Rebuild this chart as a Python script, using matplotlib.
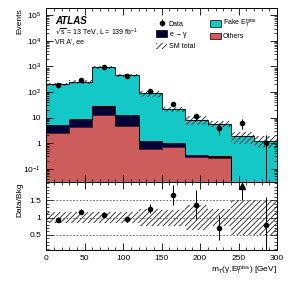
import numpy as np
import matplotlib
matplotlib.use("Agg")
import matplotlib.pyplot as plt
from matplotlib.ticker import FixedLocator, MultipleLocator, LogLocator, FuncFormatter, NullFormatter
from matplotlib.patches import Patch

plt.rcParams['font.family'] = ['Liberation Sans', 'DejaVu Sans']
plt.rcParams['mathtext.default'] = 'regular'
plt.rcParams['hatch.linewidth'] = 0.6

# ---- data ----
bin_edges = [0, 30, 60, 90, 120, 150, 180, 210, 240, 270, 300]
sm_total = [200, 245, 910, 447, 87, 20.6, 8.0, 5.6, 1.82, 1.25]
others = [2.5, 4.1, 12.9, 4.8, 0.60, 0.73, 0.28, 0.26, 0.0, 0.0]
egamma = [2.7, 4.6, 16.0, 8.1, 0.66, 0.32, 0.07, 0.04, 0.0, 0.0]
data = [188, 287, 970, 425, 110, 34, 11, 4, 6, 1]
rel_unc = [0.15, 0.15, 0.15, 0.15, 0.24, 0.23, 0.37, 0.25, 0.5, 0.5]

edges = np.array(bin_edges, float)
centers = 0.5 * (edges[1:] + edges[:-1])
sm = np.array(sm_total)
oth = np.array(others)
eg = np.array(egamma)
fake = sm - oth - eg
dat = np.array(data, float)
unc = np.array(rel_unc)

c_fake = '#14c8c8'
c_eg = '#000033'
c_oth = '#cd5c5c'
c_hatch = '#222222'
hatch = '//////'

fig = plt.figure(figsize=(2.92, 2.81), dpi=100)
ax = fig.add_axes([0.158, 0.352, 0.791, 0.6195])
rax = fig.add_axes([0.158, 0.110, 0.791, 0.242], sharex=ax)

floor = 1e-4
def step(vals):
    return np.append(vals, vals[-1])

l1 = np.maximum(oth, floor)
l2 = np.maximum(oth + eg, floor)
l3 = oth + eg + fake
ax.fill_between(edges, floor, step(l1), step='post', color=c_oth, lw=0)
ax.fill_between(edges, step(l1), step(l2), step='post', color=c_eg, lw=0)
ax.fill_between(edges, step(l2), step(l3), step='post', color=c_fake, lw=0)
ax.step(edges, step(l1), where='post', color='#3a1010', lw=0.6)
ax.step(edges, step(l2), where='post', color='black', lw=0.6)
ax.step(edges, step(l3), where='post', color='black', lw=0.6)
ax.fill_between(edges, step(sm * (1 - unc)), step(sm * (1 + unc)), step='post',
                facecolor='none', edgecolor=c_hatch, hatch=hatch, lw=0)

derr = np.sqrt(dat)
lo = np.minimum(derr, dat - 1e-3)
ax.errorbar(centers, dat, yerr=[lo, derr], fmt='o', color='black', ms=3, elinewidth=0.7, capsize=0)

ax.set_yscale('log')
ax.set_ylim(0.03, 1.9e5)
ax.set_xlim(0, 300)

def yfmt(v, pos):
    if abs(v - 1) < 1e-9:
        return '1'
    if abs(v - 10) < 1e-9:
        return '10'
    e = int(round(np.log10(v)))
    return '$10^{%d}$' % e
ax.yaxis.set_major_locator(LogLocator(base=10, numticks=20))
ax.yaxis.set_major_formatter(FuncFormatter(yfmt))
ax.yaxis.set_minor_locator(LogLocator(base=10, subs=np.arange(2, 10), numticks=20))
ax.yaxis.set_minor_formatter(NullFormatter())
ax.xaxis.set_major_locator(MultipleLocator(50))
ax.xaxis.set_minor_locator(MultipleLocator(10))
ax.tick_params(axis='x', labelbottom=False)

for a in (ax, rax):
    a.tick_params(which='both', direction='in', top=True, right=True, labelsize=6)
    a.tick_params(which='major', length=5, width=0.6)
    a.tick_params(which='minor', length=2.5, width=0.5)
    for s in a.spines.values():
        s.set_linewidth(0.7)

ax.set_ylabel('Events', fontsize=6, loc='top')
ax.yaxis.set_label_coords(-0.1, 1.0)
ax.text(0.04, 0.955, 'ATLAS', transform=ax.transAxes, fontsize=7, fontweight='bold', style='italic', va='top')
ax.text(0.04, 0.89, r'$\sqrt{s}$ = 13 TeV, L = 139 fb$^{-1}$', transform=ax.transAxes, fontsize=5, va='top')
ax.text(0.04, 0.825, "VR A', ee", transform=ax.transAxes, fontsize=5, va='top')

h_data = ax.errorbar([], [], yerr=[], fmt='o', color='black', ms=3, elinewidth=0.7)
h_eg = Patch(facecolor=c_eg, edgecolor='black', lw=0.5)
h_sm = Patch(facecolor='white', edgecolor=c_hatch, hatch=hatch, lw=0)
h_fake = Patch(facecolor=c_fake, edgecolor='black', lw=0.5)
h_oth = Patch(facecolor=c_oth, edgecolor='black', lw=0.5)
ax.legend([h_data, h_eg, h_sm, h_fake, h_oth],
          ['Data', r'e$\rightarrow\gamma$', 'SM total', r'Fake E$_{T}^{miss}$', 'Others'],
          ncol=2, loc='upper left', bbox_to_anchor=(0.45, 0.985), frameon=False, fontsize=5,
          handlelength=1.5, handleheight=1.1, columnspacing=2.2, labelspacing=0.35, handletextpad=0.3)

# ratio
ratio = dat / sm
rerr = np.sqrt(dat) / sm
rax.fill_between(edges, step(1 - unc), step(1 + unc), step='post',
                 facecolor='none', edgecolor=c_hatch, hatch=hatch, lw=0)
for yv in (0.5, 1.0, 1.5):
    rax.axhline(yv, color='#555555', lw=0.6, ls=(0, (2, 2)))
rtop = 2.03
inside = ratio < rtop
rax.errorbar(centers[inside], ratio[inside], yerr=rerr[inside], fmt='o', color='black', ms=3,
             elinewidth=0.7, capsize=0, clip_on=True)
out = ~inside
rax.plot(centers[out], np.full(out.sum(), rtop - 0.1), marker='^', color='black', ms=5, ls='none')
rax.vlines(centers[out], 1 + unc[out], rtop - 0.1, color='black', lw=0.7)
rax.set_ylim(0.06, rtop)
rax.yaxis.set_major_locator(FixedLocator([0.5, 1.0, 1.5]))
rax.yaxis.set_major_formatter(FuncFormatter(lambda v, p: ('%g' % v)))
rax.yaxis.set_minor_locator(MultipleLocator(0.1))
rax.set_ylabel('Data/Bkg', fontsize=6, loc='top')
rax.yaxis.set_label_coords(-0.1, 1.0)
rax.set_xlabel(r'm$_{T}$($\gamma$,E$_{T}^{miss}$) [GeV]', fontsize=6, loc='right', labelpad=1)

fig.savefig('out.png', dpi=100)
